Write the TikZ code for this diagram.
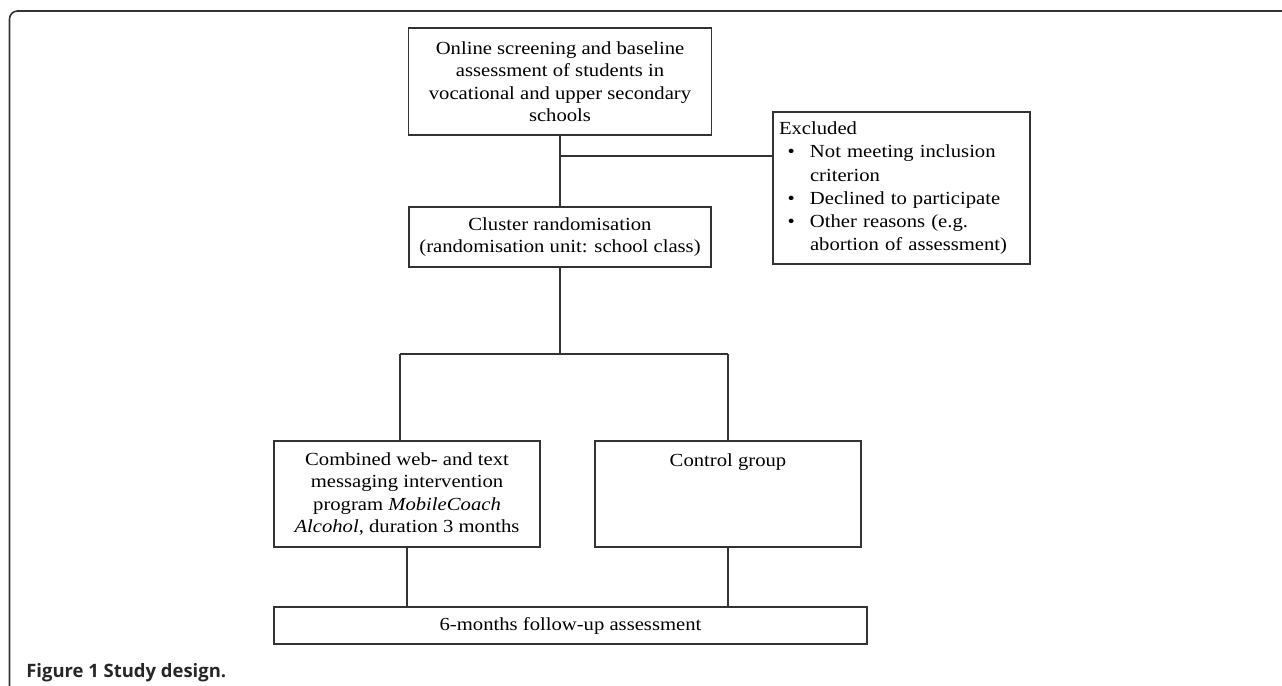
\documentclass[tikz,border=0pt]{standalone}
\usepackage{fontspec}
\setmainfont{Liberation Serif}[FakeStretch=1.12]
\newfontfamily\captionfont{Open Sans}
\usepackage{tikz}
\tikzstyle{basic box}=[draw=black!80, line width=0.7pt, inner sep=0pt, align=center, font=\fontsize{10.5}{12.8}\selectfont]
\tikzstyle{basic line}=[draw=black!80, line width=0.7pt]

\begin{document}
\begin{tikzpicture}
		\useasboundingbox (0,0) rectangle (25.64,-13.72);
		\draw [line width=0.9pt, black!80, rounded corners=0.16cm] (0.19,-13.72) -- (0.19,-0.22) -- (25.64,-0.22);

		\node [style=basic box, minimum width=6.06cm, minimum height=2.14cm] (0) at (11.2, -1.63) {Online screening and baseline\\assessment of students in\\vocational and upper secondary\\schools};
		\node [style=basic box, minimum width=6.04cm, minimum height=1.2cm] (1) at (11.2, -4.74) {Cluster randomisation\\(randomisation unit: school class)};
		\node [style=basic box, minimum width=5.14cm, minimum height=3.04cm, text width=4.9cm, align=left, font=\fontsize{10.5}{13.2}\selectfont] (2) at (18.03, -3.76) {%
			\begin{tabular}{@{}p{0.62cm}@{}l@{}}
				\multicolumn{2}{@{}l@{}}{Excluded}\\
				\hspace{0.17cm}\textbullet & Not meeting inclusion\\
				& criterion\\
				\hspace{0.17cm}\textbullet & Declined to participate\\
				\hspace{0.17cm}\textbullet & Other reasons (e.g.\\
				& abortion of assessment)
			\end{tabular}};
		\node [style=basic box, minimum width=5.32cm, minimum height=2.12cm] (3) at (8.14, -9.88) {Combined web- and text\\messaging intervention\\program \textit{MobileCoach}\\\textit{Alcohol}, duration 3 months};
		\node [style=basic box, minimum width=5.32cm, minimum height=2.12cm] (4) at (14.56, -9.88) {Control group\\\mbox{}\\\mbox{}\\\mbox{}};
		\node [style=basic box, minimum width=11.86cm, minimum height=0.74cm] (5) at (11.41, -12.51) {6-months follow-up assessment};

		\coordinate (6) at (11.2, -3.12);
		\coordinate (7) at (8.0, -7.08);
		\coordinate (8) at (14.56, -7.08);

		\draw [style=basic line] (0) to (1);
		\draw [style=basic line] (6) to (6 -| 2.west);
		\draw [style=basic line] (1.south) to (1.south |- 7);
		\draw [style=basic line] (7) to (8);
		\draw [style=basic line] (7) to (7 |- 3.north);
		\draw [style=basic line] (8) to (4);
		\draw [style=basic line] (3) to (3 |- 5.north);
		\draw [style=basic line] (4) to (4 |- 5.north);

		\node [anchor=base west, inner sep=0pt, text=black!85, font=\captionfont\bfseries\fontsize{10.5}{12}\selectfont] (9) at (0.52, -13.54) {Figure 1 Study design.};
\end{tikzpicture}
\end{document}
